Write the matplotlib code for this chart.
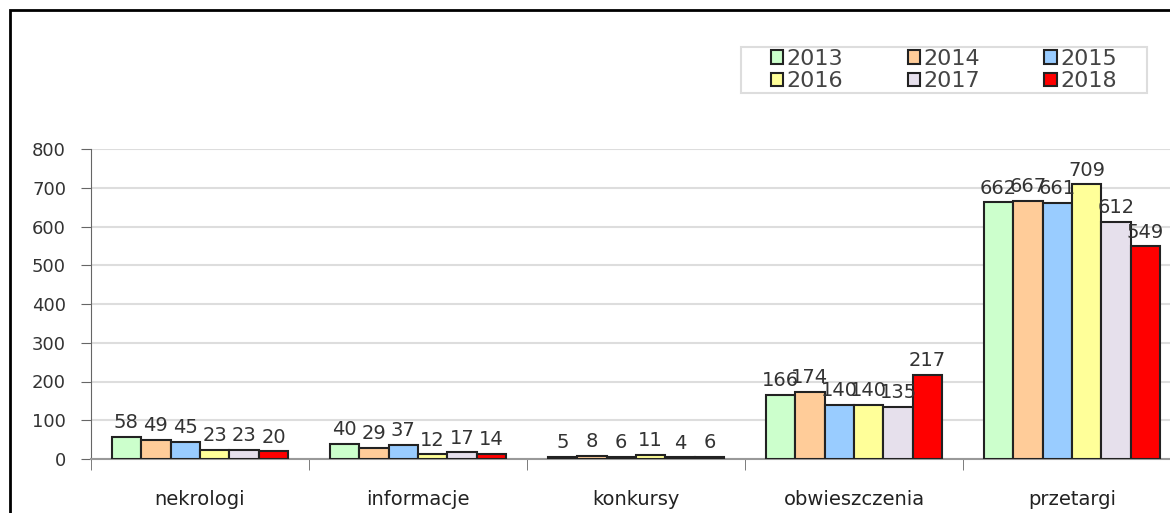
import matplotlib.pyplot as plt
import numpy as np
from matplotlib.patches import Rectangle

# Dane
CATEGORIES = ["nekrologi", "informacje", "konkursy", "obwieszczenia", "przetargi"]
YEARS = ["2013", "2014", "2015", "2016", "2017", "2018"]
VALUES = {
    "2013": [58, 40, 5, 166, 662],
    "2014": [49, 29, 8, 174, 667],
    "2015": [45, 37, 6, 140, 661],
    "2016": [23, 12, 11, 140, 709],
    "2017": [23, 17, 4, 135, 612],
    "2018": [20, 14, 6, 217, 549],
}
COLORS = ["#CCFFCC", "#FFCC99", "#99CCFF", "#FFFF99", "#E6E0EC", "#FF0000"]

W, H = 1170, 513
fig = plt.figure(figsize=(W / 100, H / 100), dpi=100)
fig.patches.append(Rectangle((10 / W, -0.1), 1.2, 1 - 10 / H + 0.1,
                             transform=fig.transFigure, fill=False,
                             edgecolor="black", linewidth=2))
# ramka legendy
fig.patches.append(Rectangle((741 / W, 1 - 93 / H), 406 / W, 46 / H,
                             transform=fig.transFigure, fill=False,
                             edgecolor="#DDDDDD", linewidth=1.5))

# osie: lewy brzeg 91px, dol 459px, 800 na 149px
left, right = 91 / W, 1181 / W
bottom, top = (H - 459) / H, (H - 149) / H
ax = fig.add_axes([left, bottom, right - left, top - bottom])

n = len(CATEGORIES)
bw = 0.135
x = np.arange(n)
for i, year in enumerate(YEARS):
    pos = x + (i - 2.5) * bw
    ax.bar(pos, VALUES[year], bw, color=COLORS[i], edgecolor="#222222",
           linewidth=1.5, label=year, zorder=3)
    for xp, v in zip(pos, VALUES[year]):
        ax.text(xp, v + 12, str(v), ha="center", va="bottom", fontsize=14,
                color="#333333", zorder=4)

ax.set_xlim(-0.5, n - 0.5)
ax.set_ylim(0, 800)
ax.set_yticks(range(0, 801, 100))
ax.tick_params(axis="y", labelsize=13, length=7, color="#666666", pad=11,
               labelcolor="#333333")
ax.set_xticks(x)
ax.set_xticklabels(CATEGORIES, fontsize=14, color="#222222")
ax.tick_params(axis="x", length=0, pad=22)
ax.set_xticks(np.arange(-0.5, n, 1), minor=True)
ax.tick_params(axis="x", which="minor", length=8, color="#666666", direction="out")
ax.yaxis.grid(True, color="#DDDDDD", linewidth=1.5, zorder=0)
for s in ["top", "right"]:
    ax.spines[s].set_visible(False)
ax.spines["left"].set_color("#666666")
ax.spines["bottom"].set_color("#999999")
ax.spines["bottom"].set_linewidth(1.5)

handles, labels = ax.get_legend_handles_labels()
# kolejnosc: wiersz po wierszu
order = [0, 3, 1, 4, 2, 5]
leg = fig.legend([handles[k] for k in order], [labels[k] for k in order],
                 ncol=3, loc="center", bbox_to_anchor=(944 / W, 1 - 70 / H),
                 fontsize=16, frameon=False,
                 handlelength=0.55, handleheight=0.55, handletextpad=0.15,
                 labelspacing=0.1, borderpad=0, columnspacing=2.9)
for t in leg.get_texts():
    t.set_color("#444444")

fig.savefig("out.png", dpi=100)
